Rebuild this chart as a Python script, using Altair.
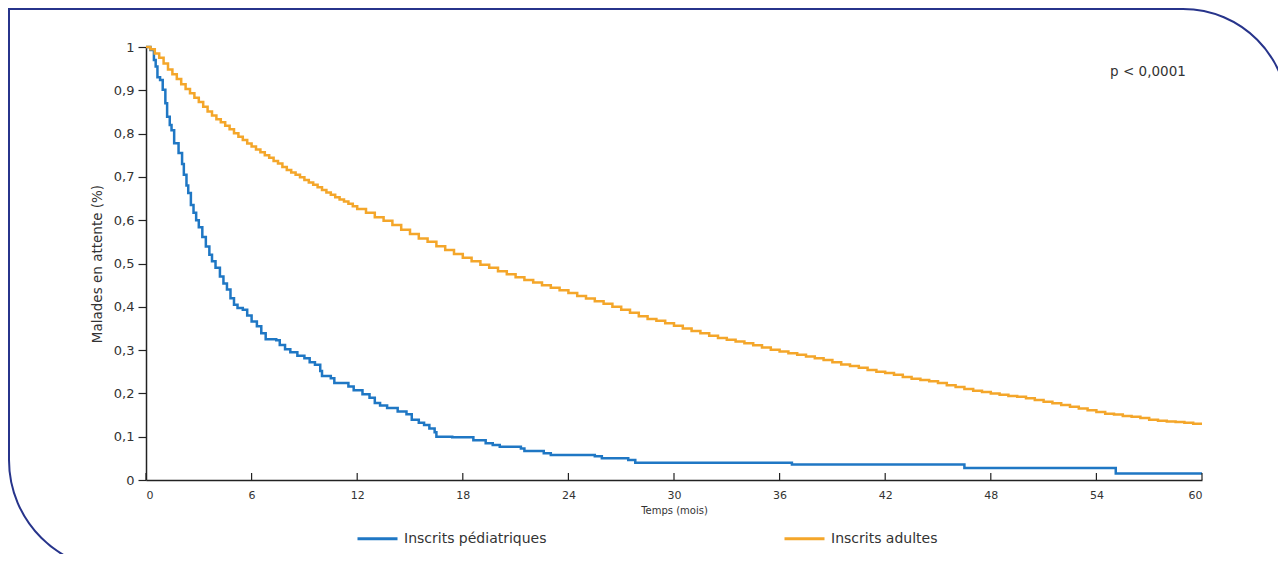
import altair as alt
import pandas as pd

# Pediatric registrants (Kaplan-Meier, months -> proportion still waiting)
ped_t = [0, 0.25, 0.45, 0.55, 0.65, 0.8, 0.95, 1.1, 1.2, 1.35, 1.45, 1.6, 1.85, 2.05, 2.15,
         2.3, 2.4, 2.55, 2.7, 2.85, 3.0, 3.2, 3.4, 3.6, 3.75, 3.95, 4.2, 4.4, 4.6, 4.8, 5.0,
         5.2, 5.5, 5.75, 6.0, 6.3, 6.55, 6.8, 7.4, 7.6, 7.9, 8.2, 8.6, 9.0, 9.3, 9.6, 9.9,
         10.0, 10.5, 10.7, 11.5, 11.8, 12.3, 12.7, 13.0, 13.3, 13.7, 14.3, 14.8, 15.1, 15.5,
         15.8, 16.1, 16.4, 16.5, 17.4, 18.6, 19.3, 19.7, 20.1, 21.3, 21.5, 22.6, 23.0, 25.5,
         25.9, 27.4, 27.8, 36.7, 46.5, 55.1, 60]
ped_s = [1.0, 0.993, 0.97, 0.955, 0.93, 0.924, 0.901, 0.87, 0.839, 0.82, 0.808, 0.778, 0.755,
         0.73, 0.705, 0.68, 0.663, 0.635, 0.617, 0.6, 0.584, 0.561, 0.539, 0.52, 0.505, 0.49,
         0.47, 0.454, 0.44, 0.42, 0.405, 0.397, 0.393, 0.38, 0.366, 0.355, 0.339, 0.325, 0.323,
         0.312, 0.302, 0.295, 0.287, 0.281, 0.272, 0.266, 0.252, 0.24, 0.235, 0.224, 0.216,
         0.207, 0.198, 0.19, 0.178, 0.172, 0.166, 0.158, 0.152, 0.139, 0.132, 0.127, 0.119,
         0.11, 0.1, 0.099, 0.092, 0.085, 0.081, 0.077, 0.073, 0.067, 0.062, 0.058, 0.055,
         0.05, 0.046, 0.04, 0.036, 0.028, 0.015, 0.015]

# Adult registrants
adu_t = [0, 0.25, 0.5, 0.75, 1.0, 1.25, 1.5, 1.75, 2.0, 2.25, 2.5, 2.75, 3.0, 3.25, 3.5, 3.75,
         4.0, 4.25, 4.5, 4.75, 5.0, 5.25, 5.5, 5.75, 6.0, 6.25, 6.5, 6.75, 7.0, 7.25, 7.5,
         7.75, 8.0, 8.25, 8.5, 8.75, 9.0, 9.25, 9.5, 9.75, 10.0, 10.25, 10.5, 10.75, 11.0,
         11.25, 11.5, 11.75, 12.0, 12.5, 13.0, 13.5, 14.0, 14.5, 15.0, 15.5, 16.0, 16.5,
         17.0, 17.5, 18.0, 18.5, 19.0, 19.5, 20.0, 20.5, 21.0, 21.5, 22.0, 22.5, 23.0, 23.5,
         24.0, 24.5, 25.0, 25.5, 26.0, 26.5, 27.0, 27.5, 28.0, 28.5, 29.0, 29.5, 30.0, 30.5,
         31.0, 31.5, 32.0, 32.5, 33.0, 33.5, 34.0, 34.5, 35.0, 35.5, 36.0, 36.5, 37.0, 37.5,
         38.0, 38.5, 39.0, 39.5, 40.0, 40.5, 41.0, 41.5, 42.0, 42.5, 43.0, 43.5, 44.0, 44.5,
         45.0, 45.5, 46.0, 46.5, 47.0, 47.5, 48.0, 48.5, 49.0, 49.5, 50.0, 50.5, 51.0, 51.5,
         52.0, 52.5, 53.0, 53.5, 54.0, 54.5, 55.0, 55.5, 56.0, 56.5, 57.0, 57.5, 58.0, 58.5,
         59.0, 59.5, 60.0]
adu_s = [1.0, 0.995, 0.985, 0.975, 0.962, 0.948, 0.937, 0.926, 0.914, 0.903, 0.893, 0.883,
         0.873, 0.862, 0.851, 0.842, 0.833, 0.826, 0.818, 0.81, 0.801, 0.793, 0.785, 0.777,
         0.77, 0.763, 0.757, 0.75, 0.744, 0.737, 0.731, 0.723, 0.716, 0.71, 0.705, 0.699,
         0.693, 0.687, 0.682, 0.676, 0.67, 0.664, 0.659, 0.653, 0.648, 0.643, 0.638, 0.632,
         0.626, 0.617, 0.607, 0.599, 0.589, 0.578, 0.568, 0.558, 0.55, 0.54, 0.531, 0.522,
         0.513, 0.505, 0.497, 0.49, 0.482, 0.475, 0.468, 0.462, 0.456, 0.45, 0.444, 0.438,
         0.432, 0.425, 0.419, 0.413, 0.407, 0.4, 0.393, 0.386, 0.378, 0.372, 0.368, 0.362,
         0.356, 0.35, 0.344, 0.339, 0.333, 0.328, 0.324, 0.32, 0.316, 0.311, 0.306, 0.301,
         0.297, 0.293, 0.289, 0.285, 0.281, 0.277, 0.272, 0.267, 0.263, 0.259, 0.254, 0.25,
         0.247, 0.243, 0.238, 0.234, 0.231, 0.228, 0.224, 0.219, 0.215, 0.21, 0.206, 0.203,
         0.2, 0.197, 0.194, 0.192, 0.189, 0.185, 0.181, 0.177, 0.173, 0.169, 0.165, 0.161,
         0.157, 0.153, 0.151, 0.148, 0.146, 0.143, 0.139, 0.137, 0.135, 0.134, 0.132, 0.13,
         0.13]

series_names = ["Inscrits pédiatriques", "Inscrits adultes"]
series_colors = ["#1f77c4", "#f4a62a"]
x_ticks = [0, 6, 12, 18, 24, 30, 36, 42, 48, 54, 60]
y_ticks = [0, 0.1, 0.2, 0.3, 0.4, 0.5, 0.6, 0.7, 0.8, 0.9, 1]
p_text = "p < 0,0001"
p_pos = (56.93, 0.942)

W, H = 1056, 433
FONT = "DejaVu Sans"
TXT = "#333333"

df = pd.concat([
    pd.DataFrame({"t": ped_t, "s": ped_s, "g": series_names[0]}),
    pd.DataFrame({"t": adu_t, "s": adu_s, "g": series_names[1]}),
])

xs = alt.Scale(domain=[0, 60], nice=False)
ys = alt.Scale(domain=[0, 1], nice=False)

frame = alt.Chart(pd.DataFrame({"a": [0]})).mark_rect(
    fill="white", fillOpacity=0, stroke="#27348b", strokeWidth=2,
    cornerRadiusTopRight=105, cornerRadiusBottomLeft=110
).encode(
    x=alt.value(-137), x2=alt.value(1142), y=alt.value(-38), y2=alt.value(523)
)

lines = alt.Chart(df).mark_line(interpolate="step-after", strokeWidth=2.5).encode(
    x=alt.X("t:Q", scale=xs,
            axis=alt.Axis(values=x_ticks, title="Temps (mois)", ticks=False,
                          labelFontSize=11, labelPadding=9, titleFontSize=10,
                          titleFontWeight="normal", titlePadding=5, grid=False,
                          domainColor="#222222", domainWidth=1.5,
                          labelColor=TXT, titleColor=TXT, labelFont=FONT, titleFont=FONT)),
    y=alt.Y("s:Q", scale=ys,
            axis=alt.Axis(values=y_ticks, title="Malades en attente (%)",
                          labelExpr="replace(format(datum.value, '~g'), '.', ',')",
                          tickSize=8, tickColor="#222222", tickWidth=1.2,
                          labelFontSize=13, labelPadding=4, titleFontSize=13.5,
                          titleFontWeight="normal", titlePadding=9, grid=False,
                          domainColor="#222222", domainWidth=1.5,
                          labelColor=TXT, titleColor=TXT, labelFont=FONT, titleFont=FONT)),
    color=alt.Color("g:N", scale=alt.Scale(domain=series_names, range=series_colors),
                    legend=alt.Legend(title=None, orient="none", legendX=210, legendY=470,
                                      direction="horizontal", symbolType="stroke",
                                      symbolSize=1600, symbolStrokeWidth=3,
                                      labelFontSize=14, labelOffset=5, labelFont=FONT,
                                      labelColor=TXT, columnPadding=231, labelLimit=400)),
    detail="g:N",
)

tick_rules = alt.Chart(pd.DataFrame({"t": x_ticks})).mark_rule(
    color="#222222", strokeWidth=1.2
).encode(x=alt.X("t:Q", scale=xs), y=alt.value(H), y2=alt.value(H - 7))

ptext = alt.Chart(pd.DataFrame({"t": [p_pos[0]], "s": [p_pos[1]], "lab": [p_text]})).mark_text(
    fontSize=13.5, font=FONT, color=TXT
).encode(x=alt.X("t:Q", scale=xs), y=alt.Y("s:Q", scale=ys), text="lab:N")

chart = alt.layer(frame, lines, tick_rules, ptext).properties(
    width=W, height=H,
    autosize=alt.AutoSizeParams(type="none"),
    padding={"left": 138, "top": 39, "right": 76, "bottom": 74},
).configure_view(stroke=None)

chart.save("out.html", embed_options={"renderer": "svg", "actions": False})
